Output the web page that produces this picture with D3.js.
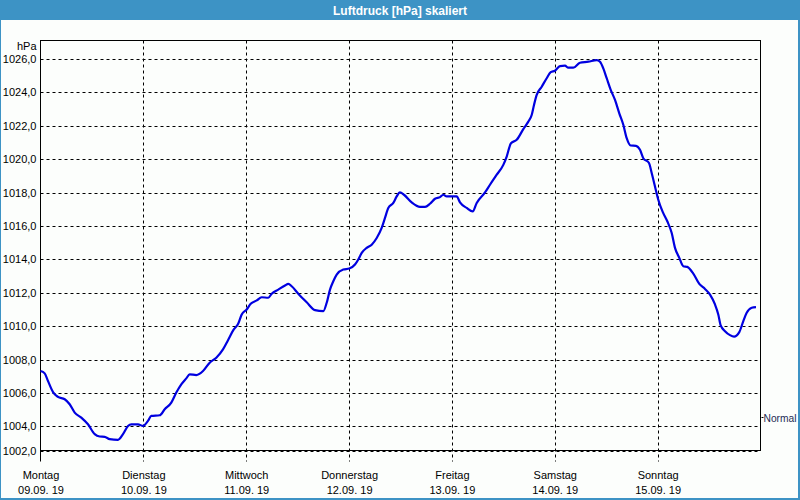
<!DOCTYPE html>
<html><head><meta charset="utf-8">
<script src="https://cdnjs.cloudflare.com/ajax/libs/d3/7.8.5/d3.min.js"></script>
<style>
html,body{margin:0;padding:0;background:#fff;}
svg text{font-family:"Liberation Sans",Arial,sans-serif;}
</style></head>
<body>
<script>
// ---- data ----
const title = "Luftdruck [hPa] skaliert";
const unitLabel = "hPa";
const dayNames = ["Montag","Dienstag","Mittwoch","Donnerstag","Freitag","Samstag","Sonntag"];
const dayDates = ["09.09. 19","10.09. 19","11.09. 19","12.09. 19","13.09. 19","14.09. 19","15.09. 19"];
const yTicks = [1002,1004,1006,1008,1010,1012,1014,1016,1018,1020,1022,1024,1026];
const normalValue = 1004.55;
const normalLabel = "Normal";
// hours since Monday 00:00
const hours = [0,0.98,1.75,2.92,4.08,5.65,6.81,7.98,9.52,11.08,12.65,13.81,14.98,16.15,18.08,19.25,20.42,21.19,22.75,23.92,
25.08,25.85,27.81,28.98,30.52,31.69,32.85,34.02,34.81,36.35,37.92,39.48,41.02,42.58,43.75,44.99,46.15,46.95,48.11,49.05,
50.45,51.61,53.15,53.95,55.49,57.05,57.82,58.61,60.15,62.11,64.05,65.99,66.78,67.55,68.32,69.11,70.65,72.05,73.38,74.15,
74.95,76.11,77.28,78.45,79.61,80.38,81.15,82.32,83.11,83.88,84.82,86.61,88.55,89.72,90.88,92.05,93.22,93.99,94.78,97.11,
97.88,99.45,100.85,101.78,103.72,104.88,106.45,107.99,108.78,109.78,111.11,112.65,113.82,114.61,115.15,115.78,116.95,118.11,119.05,120.05,
121.22,122.38,123.15,124.32,125.88,127.82,129.78,130.55,131.32,132.11,133.05,134.05,135.05,135.99,136.78,137.71,138.95,139.88,140.65,141.98,
142.61,143.38,144.15,145.18,146.25,147.28,148.05,149.05,149.99,150.92,152.32,153.72,155.05,156.22,157.38,158.15,158.71,159.72,160.88,161.82,
163.05,163.99,164.78,165.95,166.95];
const pressure = [1007.31,1007.17,1006.71,1006.05,1005.76,1005.62,1005.32,1004.82,1004.52,1004.12,1003.53,1003.39,1003.37,1003.23,1003.19,1003.53,1004.02,1004.12,1004.12,1004.02,
1004.32,1004.62,1004.66,1005.02,1005.42,1006.02,1006.51,1006.87,1007.11,1007.07,1007.31,1007.81,1008.11,1008.61,1009.16,1009.76,1010.16,1010.70,1011.00,1011.34,
1011.54,1011.73,1011.70,1011.94,1012.19,1012.43,1012.53,1012.39,1011.94,1011.43,1010.96,1010.90,1011.40,1012.19,1012.69,1013.09,1013.39,1013.45,1013.69,1013.99,
1014.39,1014.69,1014.88,1015.28,1015.88,1016.48,1017.08,1017.38,1017.77,1018.01,1017.87,1017.41,1017.14,1017.14,1017.33,1017.63,1017.73,1017.87,1017.77,1017.77,
1017.41,1017.08,1016.87,1017.38,1018.01,1018.47,1019.07,1019.66,1020.16,1020.96,1021.16,1021.80,1022.25,1022.65,1023.25,1023.85,1024.34,1024.85,1025.21,1025.30,
1025.58,1025.60,1025.48,1025.48,1025.78,1025.84,1025.94,1025.84,1025.44,1024.85,1024.15,1023.55,1022.75,1022.06,1021.26,1020.82,1020.80,1020.56,1020.06,1019.77,
1019.17,1018.37,1017.57,1016.84,1016.28,1015.58,1014.69,1014.09,1013.59,1013.55,1013.15,1012.53,1012.23,1011.89,1011.30,1010.70,1010.04,1009.70,1009.46,1009.37,
1009.64,1010.30,1010.80,1011.10,1011.14];

// ---- layout ----
const W = 800, H = 500;
const L = 40.5, R = 760.5, T = 40.5, B = 450.5;
const frameColor = "#3d93c5";

const svg = d3.select("body").append("svg").attr("width", W).attr("height", H);

// window background & frame
svg.append("rect").attr("x",0).attr("y",0).attr("width",W).attr("height",H).attr("fill",frameColor);
svg.append("rect").attr("x",1).attr("y",20).attr("width",W-3).attr("height",H-22).attr("fill","#fcfefc");
svg.append("text").attr("x",W/2).attr("y",14.5).attr("text-anchor","middle")
  .attr("fill","#fff").attr("font-weight","bold").attr("font-size",12).text(title);

const x = d3.scaleLinear().domain([0,168]).range([L,R]);
const y = d3.scaleLinear().domain([1002.55,1027.11]).range([B,T]).clamp(true);

const fmt = v => v.toFixed(1).replace(".", ",");

// horizontal gridlines
svg.append("g").selectAll("line").data(yTicks).join("line")
  .attr("x1",L).attr("x2",R).attr("y1",d=>Math.round(y(d))+0.5).attr("y2",d=>Math.round(y(d))+0.5)
  .attr("stroke","#000").attr("stroke-width",1).attr("stroke-dasharray","3,3");

// vertical day gridlines (extend below as ticks)
const dayIdx = d3.range(1,7);
svg.append("g").selectAll("line").data(dayIdx).join("line")
  .attr("x1",d=>Math.round(x(d*24))+0.5).attr("x2",d=>Math.round(x(d*24))+0.5)
  .attr("y1",T).attr("y2",B+11)
  .attr("stroke","#000").attr("stroke-width",1).attr("stroke-dasharray","3,3");

// frame
svg.append("rect").attr("x",L).attr("y",T).attr("width",R-L).attr("height",B-T)
  .attr("fill","none").attr("stroke","#000").attr("stroke-width",1);
svg.append("line").attr("x1",L).attr("x2",L).attr("y1",B).attr("y2",B+11).attr("stroke","#000");

// y labels via axis
const yAxis = d3.axisLeft(y).tickValues(yTicks).tickSize(0).tickPadding(4).tickFormat(fmt);
const gy = svg.append("g").attr("transform",`translate(${L},0)`).call(yAxis);
gy.select(".domain").remove();
gy.selectAll("text").attr("font-size",11).attr("fill","#000").attr("font-family","Liberation Sans, Arial, sans-serif");

svg.append("text").attr("x",L-4).attr("y",50).attr("text-anchor","end")
  .attr("font-size",11).attr("fill","#000").text(unitLabel);

// x labels
const gx = svg.append("g");
gx.selectAll("text.day").data(dayNames).join("text").attr("class","day")
  .attr("x",(d,i)=>x(i*24)+0.5).attr("y",479).attr("text-anchor","middle")
  .attr("font-size",11).attr("fill","#000").text(d=>d);
gx.selectAll("text.date").data(dayDates).join("text").attr("class","date")
  .attr("x",(d,i)=>x(i*24)+0.5).attr("y",494).attr("text-anchor","middle")
  .attr("font-size",11).attr("fill","#000").text(d=>d);

// normal marker
const ny = Math.round(y(normalValue))+0.5;
svg.append("line").attr("x1",R+1).attr("x2",R+3).attr("y1",ny).attr("y2",ny).attr("stroke","#000");
svg.append("text").attr("x",R+3).attr("y",ny+4).attr("font-size",10.5).attr("fill","#1c2a55")
  .attr("textLength",33).attr("lengthAdjust","spacingAndGlyphs").text(normalLabel);

// pressure line
const pts = hours.map((h,i)=>[h,pressure[i]]);
svg.append("path").datum(pts)
  .attr("d", d3.line().x(d=>x(d[0])).y(d=>y(d[1])).curve(d3.curveMonotoneX))
  .attr("fill","none").attr("stroke","#0000e0").attr("stroke-width",2.2).attr("stroke-linejoin","round");
</script>
</body></html>
